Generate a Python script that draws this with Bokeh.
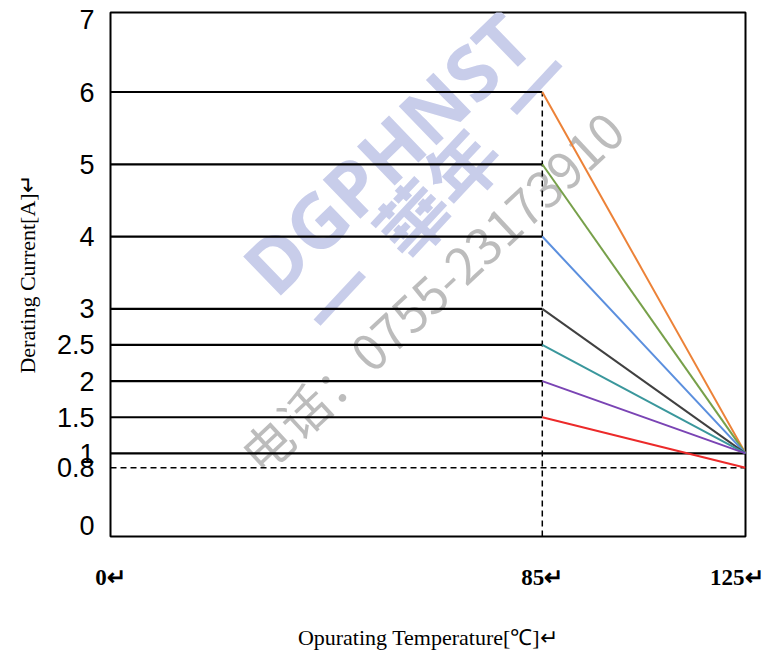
from bokeh.plotting import figure
from bokeh.models import Range1d, FixedTicker, Label
from bokeh.embed import file_html
from bokeh.resources import INLINE

# ---- data ----
temp_start = 0
temp_knee = 85
temp_end = 125
rated_currents = [6, 5, 4, 3, 2.5, 2, 1.5]
end_currents = [1, 1, 1, 1, 1, 1, 0.8]
line_colors = ["#EC8238", "#77A04A", "#5B8FDE", "#404040", "#3A979C", "#7A44B4", "#EC2A2A"]
floor_current = 1
dashed_current = 0.8
y_ticks = [0, 0.8, 1, 1.5, 2, 2.5, 3, 4, 5, 6, 7]
x_ticks = [0, 85, 125]
x_tick_labels = ["0\u21b5", "85\u21b5", "125\u21b5"]

Y_START, Y_END = -0.15, 7.1

p = figure(width=763, height=652, output_backend="svg", toolbar_location=None,
           x_range=Range1d(temp_start, temp_end), y_range=Range1d(Y_START, Y_END),
           min_border_left=110, min_border_right=18, min_border_top=12, min_border_bottom=116)
p.grid.visible = False
p.outline_line_color = "black"
p.outline_line_width = 2
p.outline_line_alpha = 1
p.background_fill_color = "white"
p.border_fill_color = "white"

# ---- watermark (faint, behind the lines) ----
wm_blue = "#c8cdea"
p.add_layout(Label(x=386, y=152, x_units="canvas", y_units="canvas", text="DGPHNST",
                   angle=44, angle_units="deg", text_align="center", text_baseline="middle",
                   text_font="Noto Sans", text_font_style="bold",
                   text_font_size="76px", text_color=wm_blue, level="underlay"))
p.add_layout(Label(x=435, y=190, x_units="canvas", y_units="canvas", text="\u4e00\u2002\u83ef\u5e74\u2002\u4e00",
                   angle=47, angle_units="deg", text_align="center", text_baseline="middle",
                   text_font="Noto Sans CJK TC", text_font_style="bold",
                   text_font_size="72px", text_color=wm_blue, level="underlay"))
p.add_layout(Label(x=430, y=290, x_units="canvas", y_units="canvas", text="\u7535\u8bdd\uff1a0755-23173910",
                   angle=43, angle_units="deg", text_align="center", text_baseline="middle",
                   text_font="Noto Sans CJK SC",
                   text_font_size="50px", text_color="#a6a6a6", text_alpha=0.75, level="underlay"))

# ---- lines ----
n = len(rated_currents)
p.segment(x0=[temp_start] * n, x1=[temp_knee] * n, y0=rated_currents, y1=rated_currents,
          line_color="black", line_width=2.2)
p.segment(x0=[temp_start], x1=[temp_end], y0=[floor_current], y1=[floor_current],
          line_color="black", line_width=2.2)
p.segment(x0=[temp_start], x1=[temp_end], y0=[dashed_current], y1=[dashed_current],
          line_color="black", line_width=1.5, line_dash="6 4")
p.segment(x0=[temp_knee], x1=[temp_knee], y0=[Y_START], y1=[max(rated_currents)],
          line_color="black", line_width=1.5, line_dash="6 4")
p.segment(x0=[temp_knee] * n, x1=[temp_end] * n, y0=rated_currents, y1=end_currents,
          line_color=line_colors, line_width=2)

# ---- axes ----
p.yaxis.ticker = FixedTicker(ticks=y_ticks)
p.yaxis.major_label_overrides = {t: f"{t:g}" for t in y_ticks}
p.yaxis.axis_line_color = None
p.yaxis.major_tick_line_color = None
p.yaxis.minor_tick_line_color = None
p.yaxis.major_label_standoff = 10
p.yaxis.major_label_text_font = "Liberation Sans"
p.yaxis.major_label_text_font_size = "27px"
p.yaxis.major_label_text_color = "black"
p.yaxis.axis_label = "Derating Current[A]\u21b5"
p.yaxis.axis_label_text_font = "Liberation Serif"
p.yaxis.axis_label_text_font_style = "normal"
p.yaxis.axis_label_text_font_size = "22px"
p.yaxis.axis_label_text_color = "black"
p.yaxis.axis_label_standoff = 14

p.xaxis.ticker = FixedTicker(ticks=x_ticks)
p.xaxis.major_label_overrides = dict(zip(x_ticks, x_tick_labels))
p.xaxis.axis_line_color = None
p.xaxis.major_tick_line_color = None
p.xaxis.minor_tick_line_color = None
p.xaxis.major_label_text_align = "right"
p.xaxis.major_label_standoff = 22
p.xaxis.major_label_text_font = "Liberation Serif"
p.xaxis.major_label_text_font_style = "bold"
p.xaxis.major_label_text_font_size = "23px"
p.xaxis.major_label_text_color = "black"
p.xaxis.axis_label = "Opurating Temperature[\u2103]\u21b5"
p.xaxis.axis_label_text_font = "Liberation Serif"
p.xaxis.axis_label_text_font_style = "normal"
p.xaxis.axis_label_text_font_size = "22px"
p.xaxis.axis_label_text_color = "black"
p.xaxis.axis_label_standoff = 32

open("out.html", "w").write(file_html(p, INLINE))
